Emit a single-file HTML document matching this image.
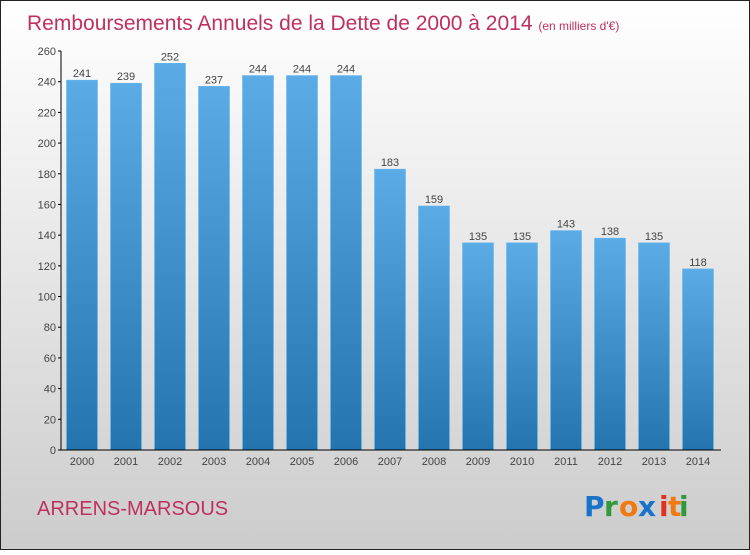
<!DOCTYPE html>
<html><head><meta charset="utf-8"><style>
body{margin:0;width:750px;height:550px;overflow:hidden;font-family:"Liberation Sans",sans-serif}
</style></head><body>
<svg width="750" height="550" xmlns="http://www.w3.org/2000/svg">
<defs>
<linearGradient id="bg" x1="0" y1="0" x2="0" y2="1"><stop offset="0" stop-color="#ffffff"/><stop offset="1" stop-color="#cccccc"/></linearGradient>
<linearGradient id="bar" x1="0" y1="0" x2="0" y2="1"><stop offset="0" stop-color="#5aabe6"/><stop offset="1" stop-color="#2474b0"/></linearGradient>
</defs>
<rect x="0.5" y="0.5" width="749" height="549" fill="url(#bg)" stroke="#222"/>
<text x="27" y="30" font-size="21" fill="#c0305e">Remboursements Annuels de la Dette de 2000 à 2014 <tspan font-size="12">(en milliers d'€)</tspan></text>
<g id="yaxis"></g>
<g id="bars"></g>
<g id="xaxis"></g>
<text x="37" y="515" font-size="20" fill="#c0305e">ARRENS-MARSOUS</text>
<g font-size="28" font-weight="bold" font-family="'DejaVu Sans',sans-serif">
<text x="584" y="516" fill="#1a73c9">P</text><text x="604" y="516" fill="#2e9a3b">r</text><text x="619" y="516" fill="#f07a10">o</text><text x="638" y="516" fill="#1a73c9">x</text><text x="659" y="516" fill="#e03020">i</text><text x="668" y="516" fill="#f07a10">t</text><text x="679" y="516" fill="#2e9a3b">i</text>
</g>
</svg>
<script>
const years=["2000","2001","2002","2003","2004","2005","2006","2007","2008","2009","2010","2011","2012","2013","2014"];
const values=[241,239,252,237,244,244,244,183,159,135,135,143,138,135,118];
const yTicks=[0,20,40,60,80,100,120,140,160,180,200,220,240,260];
const NS="http://www.w3.org/2000/svg";
const y0=450,yTop=51,vMax=260;
function ys(v){return y0-(y0-yTop)*v/vMax;}
function xs(i){return 82+i*44;}
function mk(t,a,p){const e=document.createElementNS(NS,t);for(const k in a)e.setAttribute(k,a[k]);p.appendChild(e);return e;}
const ya=document.getElementById('yaxis'),ba=document.getElementById('bars'),xa=document.getElementById('xaxis');
mk('line',{x1:61,y1:yTop,x2:61,y2:y0,stroke:'#000','stroke-width':1},ya);
yTicks.forEach(v=>{
 mk('line',{x1:58,y1:ys(v),x2:61,y2:ys(v),stroke:'#000'},ya);
 const t=mk('text',{x:56,y:ys(v)+4,'text-anchor':'end','font-size':11,fill:'#444'},ya);
 
 
 t.textContent=v;
});
values.forEach((v,i)=>{
 const r=mk('rect',{x:xs(i)-15.5,y:ys(v),width:31,height:y0-ys(v),fill:'url(#bar)',stroke:'#6ab6ee','stroke-width':0.6},ba);
 
 
 const t=mk('text',{x:xs(i),y:ys(v)-3,'text-anchor':'middle','font-size':11,fill:'#444'},ba);
 
 
 t.textContent=v;
});
mk('line',{x1:61,y1:y0,x2:721,y2:y0,stroke:'#000'},xa);
years.forEach((y,i)=>{
 const t=mk('text',{x:xs(i),y:465,'text-anchor':'middle','font-size':11,fill:'#444'},xa);
 
 
 t.textContent=y;
});
</script>
</body></html>
